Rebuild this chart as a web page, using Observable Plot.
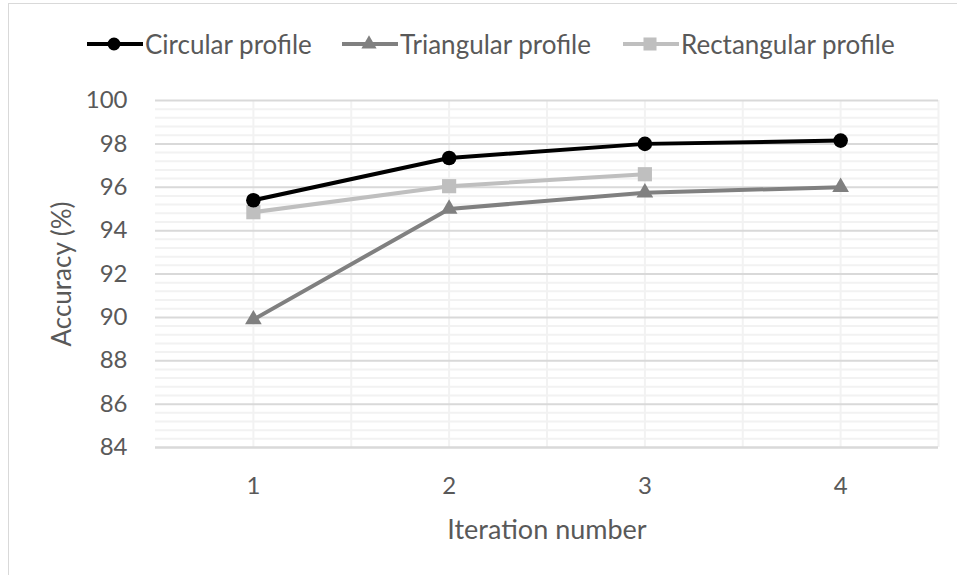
<!DOCTYPE html>
<html>
<head>
<meta charset="utf-8">
<script src="https://cdn.jsdelivr.net/npm/d3@7"></script>
<script src="https://cdn.jsdelivr.net/npm/@observablehq/plot@0.6"></script>
<style>
  html, body { margin: 0; padding: 0; background: #fff; overflow: hidden; }
  body { width: 957px; height: 575px; position: relative; font-family: Lato, "Open Sans", sans-serif; }
  #frame { position: absolute; left: 8px; top: 3px; width: 1000px; height: 1000px; border: 1px solid #d9d9d9; box-sizing: border-box; pointer-events: none; }
  #legend { position: relative; height: 80px; }
  .item { position: absolute; top: 28px; display: flex; align-items: center; color: #595959; font-size: 26px; line-height: 32px; white-space: nowrap; }
  .item svg { display: block; }
  #chart { position: relative; }
</style>
</head>
<body>
<div id="frame"></div>
<div id="legend"></div>
<div id="chart"></div>
<script>
const iterations = [1, 2, 3, 4];
const circular = [95.4, 97.35, 98.0, 98.15];
const triangular = [89.9, 95.0, 95.75, 96.0];
const rectangular = [94.85, 96.05, 96.6];
const seriesNames = ["Circular profile", "Triangular profile", "Rectangular profile"];
const seriesColors = ["#000000", "#808080", "#bfbfbf"];
const seriesSymbols = ["circle", "triangle", "square"];
const yTicks = [84, 86, 88, 90, 92, 94, 96, 98, 100];
const xTicks = [1, 2, 3, 4];

const seriesValues = [circular, triangular, rectangular];
const data = [];
seriesValues.forEach((vals, si) => vals.forEach((v, i) => data.push({series: seriesNames[si], x: iterations[i], y: v})));

const minorY = d3.range(84, 100.001, 0.4).map(v => +v.toFixed(1)).filter(v => !yTicks.includes(v));
const vGrid = d3.range(1, 4.501, 0.5);

const textColor = "#595959";
const marks = [
  Plot.ruleY(minorY, {stroke: "#f2f2f2", strokeWidth: 2}),
  Plot.ruleX(vGrid, {stroke: "#f2f2f2", strokeWidth: 2}),
  Plot.ruleY(yTicks.filter(v => v !== 84), {stroke: "#d9d9d9", strokeWidth: 2}),
  Plot.ruleY([84], {stroke: "#d9d9d9", strokeWidth: 2.5}),
  Plot.axisY(yTicks, {tickSize: 0, tickPadding: 28, fontSize: 24, fill: textColor, label: null}),
  Plot.axisX(xTicks, {tickSize: 0, tickPadding: 29, fontSize: 24, fill: textColor, label: null, tickFormat: d3.format("d")}),
  Plot.text(["Accuracy (%)"], {frameAnchor: "left", dx: -93, rotate: -90, textAnchor: "middle", lineAnchor: "middle", fontSize: 26, fill: textColor}),
  Plot.text(["Iteration number"], {frameAnchor: "bottom", dy: 83, lineAnchor: "middle", fontSize: 27, fill: textColor})
];
[2, 1, 0].forEach(si => {
  const d = data.filter(r => r.series === seriesNames[si]);
  marks.push(Plot.line(d, {x: "x", y: "y", stroke: seriesColors[si], strokeWidth: 4}));
  const r = seriesSymbols[si] === "circle" ? 7.3 : (seriesSymbols[si] === "square" ? 8 : 6.2);
  marks.push(Plot.dot(d, {x: "x", y: "y", symbol: () => seriesSymbols[si], fill: seriesColors[si], stroke: "none", r}));
});

const chart = Plot.plot({
  width: 957,
  height: 495,
  marginTop: 20,
  marginBottom: 128,
  marginLeft: 155,
  marginRight: 19,
  style: {fontFamily: "Lato, 'Open Sans', sans-serif", background: "transparent", overflow: "visible"},
  x: {type: "linear", domain: [0.5, 4.5]},
  y: {domain: [84, 100]},
  symbol: {type: "identity"},
  marks
});
document.getElementById("chart").appendChild(chart);

// legend
const legend = document.getElementById("legend");
const legendX = [87, 342, 623];
seriesNames.forEach((name, i) => {
  const item = document.createElement("div");
  item.className = "item";
  item.style.left = legendX[i] + "px";
  const sw = d3.create("svg").attr("width", 56).attr("height", 20);
  sw.append("line").attr("x1", 0).attr("x2", 56).attr("y1", 10).attr("y2", 10).attr("stroke", seriesColors[i]).attr("stroke-width", 4);
  const sym = {circle: d3.symbolCircle, triangle: d3.symbolTriangle, square: d3.symbolSquare}[seriesSymbols[i]];
  const size = seriesSymbols[i] === "circle" ? Math.PI * 42 : (seriesSymbols[i] === "square" ? 170 : 100);
  sw.append("path").attr("d", d3.symbol(sym, size)()).attr("transform", "translate(27,10)").attr("fill", seriesColors[i]);
  item.appendChild(sw.node());
  const t = document.createElement("span");
  t.textContent = name;
  t.style.marginLeft = "2px";
  item.appendChild(t);
  legend.appendChild(item);
});
</script>
</body>
</html>
